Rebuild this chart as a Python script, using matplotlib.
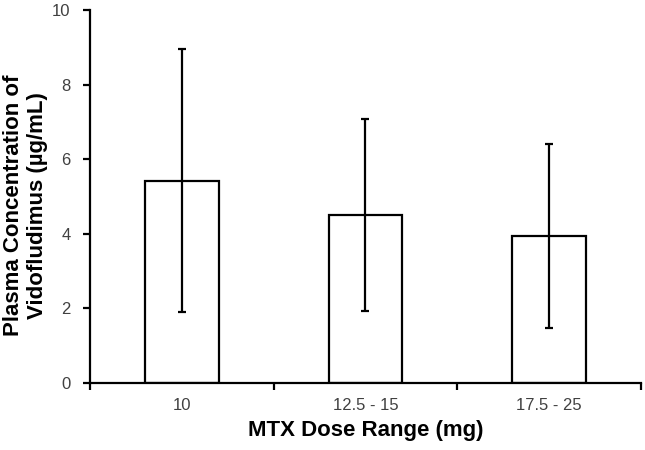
import numpy as np
import matplotlib
matplotlib.use("Agg")
import matplotlib.pyplot as plt

# Values
dose_ranges = ["10", "12.5 - 15", "17.5 - 25"]
mean_conc = [5.42, 4.50, 3.94]
sd_conc = [3.52, 2.58, 2.47]

plt.rcParams['font.family'] = ['Liberation Sans', 'DejaVu Sans']

fig = plt.figure(figsize=(6.45, 4.5), dpi=100)
ax = fig.add_axes([0.1395, 0.149, 0.854, 0.829])

x = np.arange(len(dose_ranges))
ax.bar(x, mean_conc, width=0.4, color='white', edgecolor='black', linewidth=1.6,
       yerr=sd_conc, error_kw=dict(ecolor='black', elinewidth=1.6, capsize=3, capthick=1.6))

ax.set_xlim(-0.5, len(dose_ranges) - 0.5)
ax.set_ylim(0, 10)
ax.set_yticks([0, 2, 4, 6, 8, 10])

# category labels centred, tick marks between categories
ax.set_xticks(x)
ax.set_xticklabels(dose_ranges)
ax.set_xticks(np.arange(len(dose_ranges) + 1) - 0.5, minor=True)
ax.tick_params(axis='x', which='major', length=0, pad=11, labelsize=12, labelcolor='#404040')
ax.tick_params(axis='x', which='minor', length=5, width=1.6, direction='out')
ax.tick_params(axis='y', length=5, width=1.6, direction='out', pad=9,
               labelsize=12, labelcolor='#404040')

for s in ['top', 'right']:
    ax.spines[s].set_visible(False)
for s in ['left', 'bottom']:
    ax.spines[s].set_linewidth(1.6)

ax.set_xlabel("MTX Dose Range (mg)", fontsize=16, fontweight='bold', labelpad=5)
# y label placed by hand so the two lines sit inside the figure
fig.text(0.040, 0.544, "Plasma Concentration of\nVidofludimus (µg/mL)", fontsize=16,
         fontweight='bold', rotation=90, ha='center', va='center', multialignment='center')

fig.savefig("out.png", dpi=100)
